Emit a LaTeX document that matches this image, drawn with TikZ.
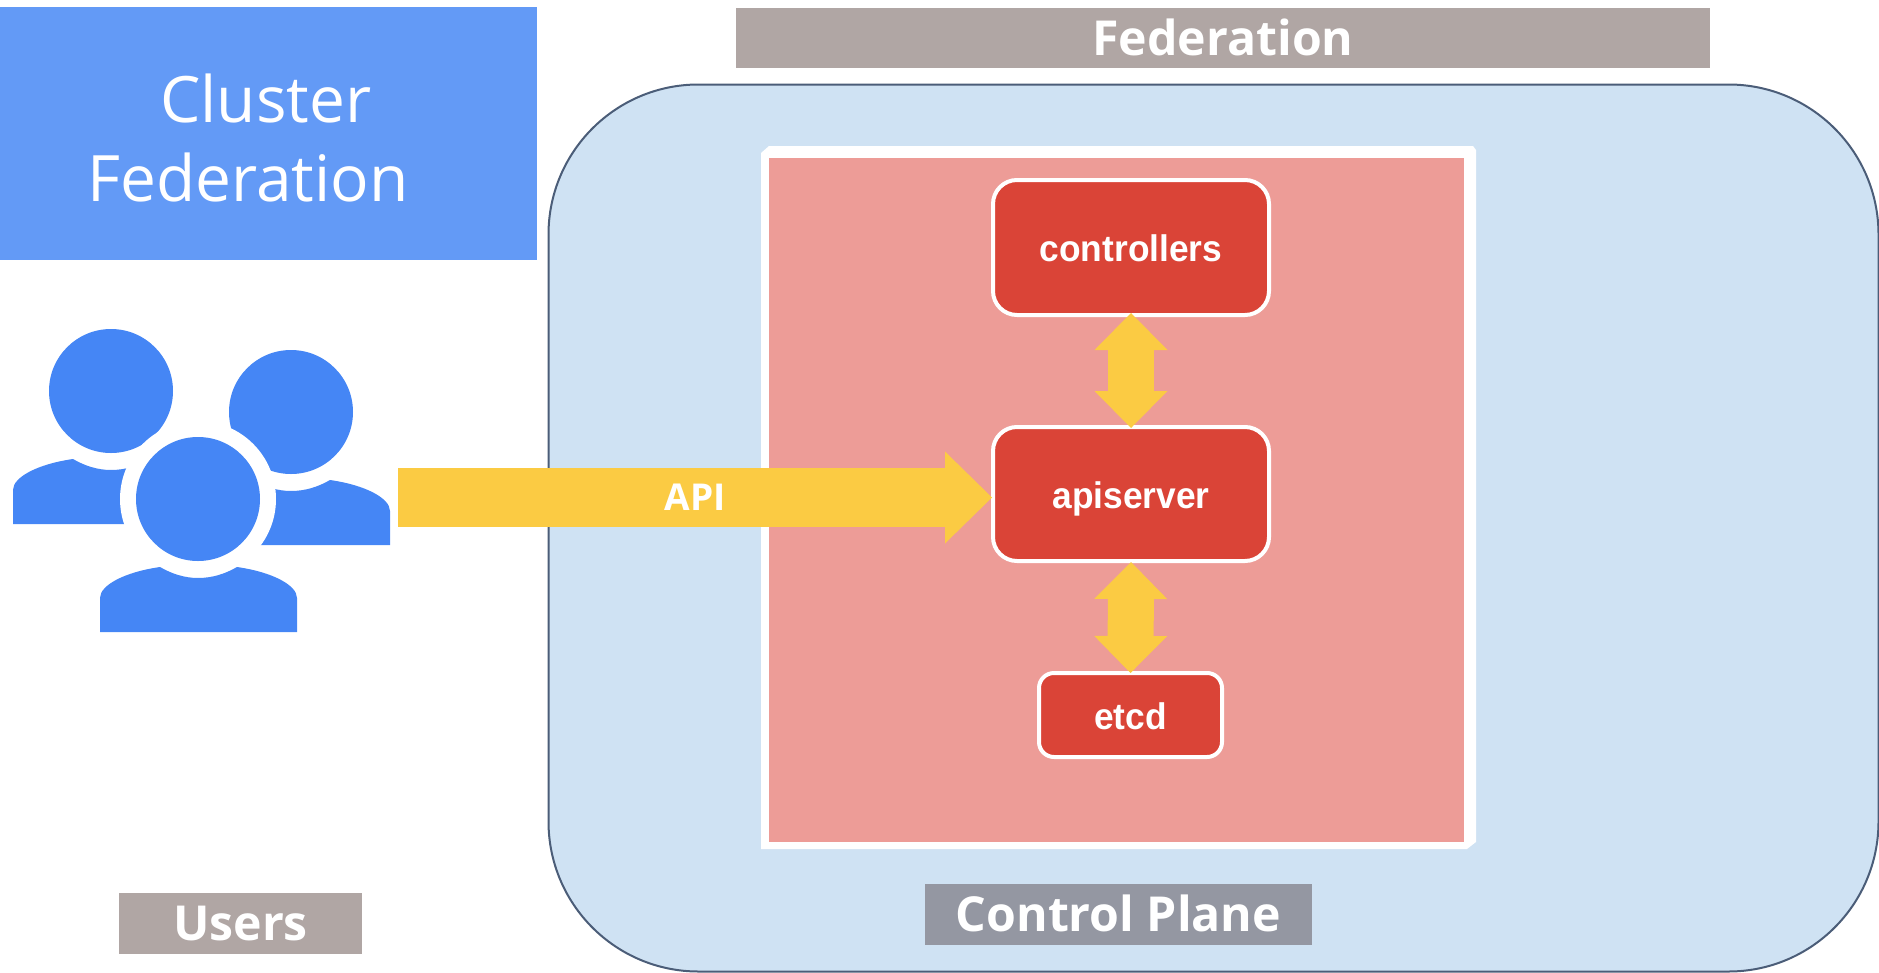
\documentclass[tikz,border=0pt]{standalone}
\usepackage{fontspec}
\setmainfont{Open Sans}
\newfontfamily\boxfont[FakeStretch=0.955]{Liberation Sans}
\usetikzlibrary{arrows.meta}
\definecolor{panelblue}{HTML}{CFE2F3}
\definecolor{panelline}{HTML}{4B5D78}
\definecolor{pinkfill}{HTML}{ED9C97}
\definecolor{redfill}{HTML}{DA4437}
\definecolor{yellowfill}{HTML}{FBCB43}
\definecolor{userblue}{HTML}{4586F5}
\definecolor{titleblue}{HTML}{639AF6}
\definecolor{taupe}{HTML}{B0A6A4}
\definecolor{slategrey}{HTML}{9497A2}
\tikzset{
  compbox/.style={rectangle,draw=white,line width=4pt,fill=redfill,text=white,outer sep=0pt,inner sep=0pt,
    text height=28pt,text depth=0pt,font=\boxfont\bfseries\fontsize{37}{40}\selectfont},
  tagbox/.style={rectangle,fill=taupe,text=white,inner sep=0pt,outer sep=0pt,
    text height=34pt,text depth=0pt,font=\bfseries\fontsize{48.2}{52}\selectfont},
  fatarrow/.style={draw=yellowfill,line width=46pt,
    {Triangle[width=73pt,length=37pt,line width=0pt,fill=yellowfill]}-{Triangle[width=73pt,length=37pt,line width=0pt,fill=yellowfill]}},
  apiarrow/.style={draw=yellowfill,line width=59pt,
    -{Triangle[width=92pt,length=47pt,line width=0pt,fill=yellowfill]}},
  person/.style={fill=userblue}
}
\newcommand{\bodyshape}{(100,598) .. controls (100,585) and (125,572) .. (160,567)
  .. controls (172,574) and (185,578) .. (198,578)
  .. controls (212,578) and (225,574) .. (237,567)
  .. controls (272,572) and (297,585) .. (297,598)
  -- (297,632) -- (100,632) -- cycle}
\begin{document}
\begin{tikzpicture}[x=1pt,y=-1pt]
\useasboundingbox (0,0) rectangle (1879,972);
% title
\node[rectangle,fill=titleblue,inner sep=0pt,minimum width=537pt,minimum height=253pt] (title) at (268.5,133.5) {};
\node[text=white,inner sep=0pt,align=left,font=\fontsize{64}{79}\selectfont] (titletext) at (248,138) {\hspace*{73pt}Cluster\\Federation};
% panels
\node[rectangle,draw=panelline,line width=2pt,fill=panelblue,rounded corners=150pt,minimum width=1330pt,minimum height=887pt] (plane) at (1213.5,528) {};
\fill[white] (769,146) -- (1473,146) -- (1476,150) -- (1476,842) -- (1467,849) -- (761,849) -- (761,153) -- cycle;
\node[rectangle,fill=pinkfill,minimum width=695pt,minimum height=684pt,inner sep=0pt] (inner) at (1116.5,500) {};
% tags
\node[tagbox,minimum width=974pt,minimum height=60pt] (federation) at (1223,38) {Federation};
\node[tagbox,minimum width=243pt,minimum height=61pt] (users) at (240.5,923.5) {Users};
\node[tagbox,fill=slategrey,minimum width=387pt,minimum height=61pt] (cplane) at (1118.5,914.5) {Control Plane};
% components
\node[compbox,rounded corners=24pt,minimum width=276pt,minimum height=135pt] (controllers) at (1131,247.5) {controllers};
\node[compbox,rounded corners=24pt,minimum width=276pt,minimum height=134pt] (apiserver) at (1131,494) {apiserver};
\node[compbox,rounded corners=15pt,minimum width=183pt,minimum height=84pt] (etcd) at (1130.5,715) {etcd};
% arrows
\draw[fatarrow] ([yshift=2pt]controllers.south) -- ([yshift=-1pt]apiserver.north);
\draw[fatarrow] ([yshift=-1pt]apiserver.south) -- (etcd.north);
\coordinate (apistart) at (398,497.5);
\draw[apiarrow] (apistart) -- ([xshift=-1pt,yshift=-3.5pt]apiserver.west) node[pos=0.5,text=white,font=\bfseries\fontsize{37}{40}\selectfont] (apilabel) {API};
% users
\fill[person,shift={(-87,-108)}] \bodyshape;
\fill[person,shift={(93,-87)}] \bodyshape;
\fill[person] (111,391) circle[radius=62pt];
\fill[person] (291,412) circle[radius=62pt];
\fill[white] (198,499) circle[radius=78pt];
\fill[person] \bodyshape;
\fill[person] (198,499) circle[radius=62pt];
\end{tikzpicture}
\end{document}
